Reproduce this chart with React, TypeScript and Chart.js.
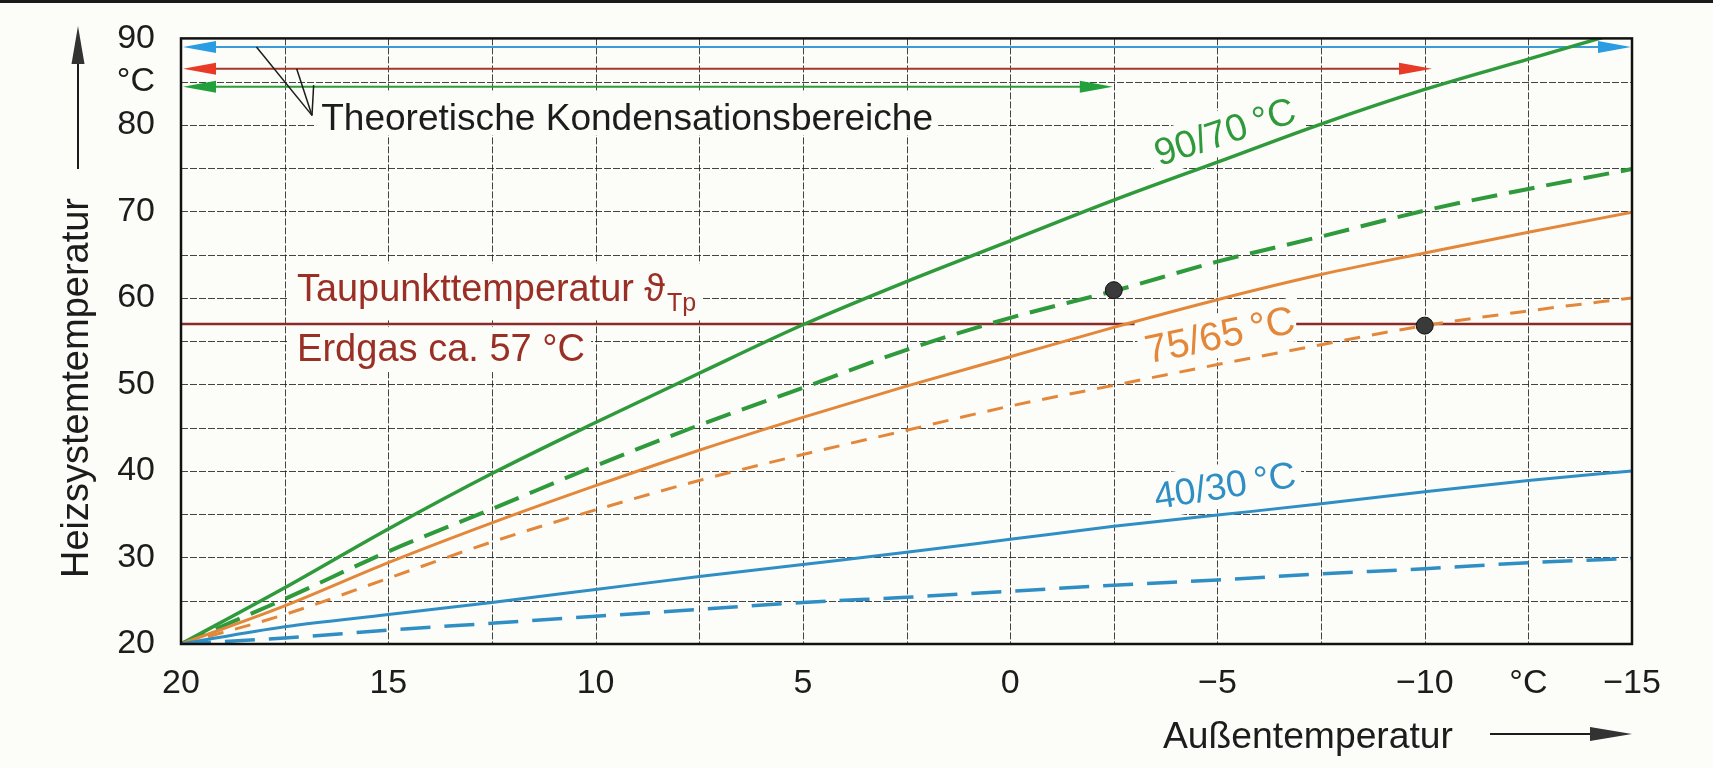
import React, { useEffect, useRef } from 'react';
import { Chart, registerables } from 'chart.js';

Chart.register(...registerables);

// ---------------- DATA ----------------
const outdoorTemps = [20, 17.5, 15, 12.5, 10, 7.5, 5, 2.5, 0, -2.5, -5, -7.5, -10, -12.5, -15];
const supply90 = [20, 26.5, 33.3, 39.7, 45.6, 51.3, 56.9, 61.9, 66.6, 71.3, 75.7, 80.1, 84.1, 87.6, 91.1];
const return70 = [20, 25.2, 30.7, 35.6, 40.6, 45.3, 49.6, 54.0, 57.7, 60.8, 64.2, 67.1, 70.1, 72.6, 74.9];
const supply75 = [20, 24.4, 29.4, 34.0, 38.3, 42.4, 46.2, 49.8, 53.2, 56.6, 59.8, 62.7, 65.2, 67.6, 69.9];
const return65 = [20, 23.4, 27.6, 31.8, 35.5, 38.9, 41.9, 44.7, 47.5, 49.9, 52.3, 54.6, 56.8, 58.5, 60.0];
const supply40 = [20, 22.0, 23.4, 24.8, 26.3, 27.8, 29.2, 30.6, 32.1, 33.6, 34.9, 36.2, 37.6, 38.9, 40.0];
const return30 = [20, 20.7, 21.6, 22.4, 23.2, 24.0, 24.8, 25.4, 26.1, 26.8, 27.4, 28.1, 28.7, 29.4, 29.9];

const dewPointTemp = 57;
const dewPointSegmentStarts = [20, -6.9];
const dewPointSegmentEnds = [-3, -15];

const markerX = [-2.5, -10];
const markerY = [60.9, 56.8];

// theoretical condensation ranges (arrows): blue 40/30, red 75/65, green 90/70
const rangeArrowY = [89, 86.5, 84.4];
const rangeArrowStart = [20, 20, 20];
const rangeArrowEnd = [-15, -10.2, -2.5];

// leader lines of "Theoretische Kondensationsbereiche"
const leaderApex = { x: 16.84, y: 81.1 };
const leaderEndX = [18.18, 17.21, 16.8];
const leaderEndY = [89, 86.5, 84.6];

const xTickValues = [20, 15, 10, 5, 0, -5, -10, -12.5, -15];
const xTickTexts = ['20', '15', '10', '5', '0', '\u22125', '\u221210', '°C', '\u221215'];
const yTickValues = [20, 30, 40, 50, 60, 70, 80, 85, 90];
const yTickTexts = ['20', '30', '40', '50', '60', '70', '80', '°C', '90'];

// ---------------- STYLE ----------------
const FONT = '"Liberation Sans", Arimo, "DejaVu Sans", sans-serif';
const GREEN = '#2f9a3b';
const ORANGE = '#e3873a';
const BLUE = '#2f8fc4';
const DARKRED = '#9a2f26';
const BG = '#fcfcf8';
const INK = '#1c1c1c';

const pts = (ys: number[]) => outdoorTemps.map((x, i) => ({ x, y: ys[i] }));

const dewPointData: { x: number; y: number | null }[] = [];
dewPointSegmentStarts.forEach((s, i) => {
  if (i > 0) dewPointData.push({ x: (dewPointSegmentEnds[i - 1] + s) / 2, y: null });
  dewPointData.push({ x: s, y: dewPointTemp });
  dewPointData.push({ x: dewPointSegmentEnds[i], y: dewPointTemp });
});

type Lbl = {
  text: string; x: number; y: number; rot: number; color: string; width: number;
  align: 'left' | 'center'; padL: number; padR: number; padT: number; padB: number; sub?: string;
};

const labels: Lbl[] = [
  { text: 'Theoretische Kondensationsbereiche', x: 16.62, y: 79.4, rot: 0, color: INK, width: 612, align: 'left', padL: 5, padR: 5, padT: 38, padB: 5 },
  { text: 'Taupunkttemperatur \u03D1', x: 17.2, y: 59.6, rot: 0, color: DARKRED, width: 368, align: 'left', padL: 10, padR: 6, padT: 38, padB: 19, sub: 'Tp' },
  { text: 'Erdgas ca. 57 °C', x: 17.2, y: 52.7, rot: 0, color: DARKRED, width: 288, align: 'left', padL: 10, padR: 6, padT: 34, padB: 11 },
  { text: '90/70\u2009°C', x: -5.18, y: 79.2, rot: -18, color: GREEN, width: 146, align: 'center', padL: 6, padR: 6, padT: 22, padB: 22 },
  { text: '75/65\u2009°C', x: -5.06, y: 55.7, rot: -12, color: ORANGE, width: 152, align: 'center', padL: 6, padR: 6, padT: 22, padB: 22 },
  { text: '40/30\u2009°C', x: -5.18, y: 38.3, rot: -9, color: BLUE, width: 143, align: 'center', padL: 6, padR: 6, padT: 22, padB: 22 },
];

function fitFont(ctx: CanvasRenderingContext2D, text: string, width: number) {
  ctx.font = `100px ${FONT}`;
  const m = ctx.measureText(text).width;
  const size = (100 * width) / m;
  return `${size.toFixed(2)}px ${FONT}`;
}

function arrowHead(ctx: CanvasRenderingContext2D, tx: number, ty: number, dx: number, dy: number, len: number, half: number, color: string) {
  const nx = -dy, ny = dx;
  ctx.beginPath();
  ctx.moveTo(tx, ty);
  ctx.lineTo(tx - dx * len + nx * half, ty - dy * len + ny * half);
  ctx.lineTo(tx - dx * len - nx * half, ty - dy * len - ny * half);
  ctx.closePath();
  ctx.fillStyle = color;
  ctx.fill();
}

const decor = {
  id: 'decor',
  beforeDraw(chart: any) {
    const { ctx, width, height } = chart;
    ctx.save();
    ctx.fillStyle = BG;
    ctx.fillRect(0, 0, width, height);
    ctx.fillStyle = '#1a1a1a';
    ctx.fillRect(0, 0, width, 3);
    ctx.restore();
  },
  beforeDatasetsDraw(chart: any) {
    const { ctx, chartArea: a } = chart;
    const xs = chart.scales.x, ys = chart.scales.y;
    ctx.save();
    // grid
    ctx.strokeStyle = 'rgba(35,35,35,0.85)';
    ctx.lineWidth = 1;
    ctx.setLineDash([7, 2]);
    xs.ticks.forEach((t: any) => {
      const px = Math.round(xs.getPixelForValue(t.value)) + 0.5;
      ctx.beginPath(); ctx.moveTo(px, a.top); ctx.lineTo(px, a.bottom); ctx.stroke();
    });
    ys.ticks.forEach((t: any) => {
      const py = Math.round(ys.getPixelForValue(t.value)) + 0.5;
      ctx.beginPath(); ctx.moveTo(a.left, py); ctx.lineTo(a.right, py); ctx.stroke();
    });
    ctx.setLineDash([]);
    // label backgrounds
    labels.forEach((l) => {
      let w = l.width;
      if (l.sub) { ctx.font = `25px ${FONT}`; w += ctx.measureText(l.sub).width + 2; }
      const px = xs.getPixelForValue(l.x), py = ys.getPixelForValue(l.y);
      ctx.save();
      ctx.translate(px, py);
      ctx.rotate((l.rot * Math.PI) / 180);
      ctx.fillStyle = BG;
      const x0 = l.align === 'left' ? 0 : -w / 2;
      ctx.fillRect(x0 - l.padL, -l.padT, w + l.padL + l.padR, l.padT + l.padB);
      ctx.restore();
    });
    // condensation range arrows
    const lineCols = ['#3b9bd8', '#a23a2c', '#2f9a3b'];
    const headCols = ['#2a9de2', '#e83a26', '#22a03c'];
    rangeArrowY.forEach((yv, i) => {
      const py = ys.getPixelForValue(yv);
      const x1 = xs.getPixelForValue(rangeArrowStart[i]) + 2;
      const x2 = xs.getPixelForValue(rangeArrowEnd[i]) - 1;
      ctx.strokeStyle = lineCols[i];
      ctx.lineWidth = 2;
      ctx.beginPath(); ctx.moveTo(x1 + 10, py); ctx.lineTo(x2 - 10, py); ctx.stroke();
      arrowHead(ctx, x1, py, -1, 0, 33, 6, headCols[i]);
      arrowHead(ctx, x2, py, 1, 0, 33, 6, headCols[i]);
    });
    // leader lines
    ctx.strokeStyle = INK;
    ctx.lineWidth = 1.5;
    const ax = xs.getPixelForValue(leaderApex.x), ay = ys.getPixelForValue(leaderApex.y);
    leaderEndX.forEach((lx, i) => {
      ctx.beginPath();
      ctx.moveTo(ax, ay);
      ctx.lineTo(xs.getPixelForValue(lx), ys.getPixelForValue(leaderEndY[i]));
      ctx.stroke();
    });
    ctx.restore();
  },
  afterDatasetsDraw(chart: any) {
    const { ctx, chartArea: a } = chart;
    const xs = chart.scales.x, ys = chart.scales.y;
    ctx.save();
    // frame
    ctx.strokeStyle = '#111';
    ctx.lineWidth = 2.5;
    ctx.strokeRect(a.left, a.top, a.right - a.left, a.bottom - a.top);
    // labels
    labels.forEach((l) => {
      const px = xs.getPixelForValue(l.x), py = ys.getPixelForValue(l.y);
      ctx.save();
      ctx.translate(px, py);
      ctx.rotate((l.rot * Math.PI) / 180);
      ctx.fillStyle = l.color;
      ctx.font = fitFont(ctx, l.text, l.width);
      if (l.align === 'left') {
        ctx.textAlign = 'left';
        ctx.textBaseline = 'alphabetic';
        ctx.fillText(l.text, 0, 0);
        if (l.sub) {
          ctx.font = `25px ${FONT}`;
          ctx.fillText(l.sub, l.width + 2, 10);
        }
      } else {
        ctx.textAlign = 'center';
        ctx.textBaseline = 'middle';
        ctx.fillText(l.text, 0, 2);
      }
      ctx.restore();
    });
    ctx.restore();
  },
  afterDraw(chart: any) {
    const { ctx } = chart;
    ctx.save();
    ctx.fillStyle = INK;
    ctx.strokeStyle = INK;
    // y-axis title with arrow
    ctx.save();
    ctx.translate(78, 388);
    ctx.rotate(-Math.PI / 2);
    ctx.font = fitFont(ctx, 'Heizsystemtemperatur', 380);
    ctx.textAlign = 'center';
    ctx.textBaseline = 'middle';
    ctx.fillText('Heizsystemtemperatur', 0, 0);
    ctx.restore();
    ctx.lineWidth = 2;
    ctx.beginPath(); ctx.moveTo(78, 169); ctx.lineTo(78, 60); ctx.stroke();
    arrowHead(ctx, 78, 26, 0, -1, 38, 6.5, '#333');
    // x-axis title with arrow
    ctx.font = fitFont(ctx, 'Außentemperatur', 290);
    ctx.textAlign = 'left';
    ctx.textBaseline = 'alphabetic';
    ctx.fillStyle = INK;
    ctx.fillText('Außentemperatur', 1163, 748);
    ctx.beginPath(); ctx.moveTo(1490, 734); ctx.lineTo(1595, 734); ctx.stroke();
    arrowHead(ctx, 1632, 734, 1, 0, 42, 7, '#333');
    ctx.restore();
  },
};

export default function App() {
  const ref = useRef<HTMLCanvasElement>(null);
  useEffect(() => {
    document.body.style.margin = '0';
    const canvas = ref.current!;
    const chart = new Chart(canvas, {
      type: 'line',
      data: {
        datasets: [
          {
            label: 'Auslegungspunkte',
            data: markerX.map((x, i) => ({ x, y: markerY[i] })),
            showLine: false,
            pointRadius: 8.5,
            pointBackgroundColor: '#3a3a3a',
            pointBorderColor: '#111',
            pointBorderWidth: 1,
            borderColor: '#111',
          },
          { label: '40/30 VL', data: pts(supply40), borderColor: BLUE, borderWidth: 3, pointRadius: 0, cubicInterpolationMode: 'monotone' },
          { label: '40/30 RL', data: pts(return30), borderColor: BLUE, borderWidth: 3.5, borderDash: [30, 14], pointRadius: 0, cubicInterpolationMode: 'monotone' },
          { label: '75/65 VL', data: pts(supply75), borderColor: ORANGE, borderWidth: 3, pointRadius: 0, cubicInterpolationMode: 'monotone' },
          { label: '75/65 RL', data: pts(return65), borderColor: ORANGE, borderWidth: 3, borderDash: [16, 12], pointRadius: 0, cubicInterpolationMode: 'monotone' },
          { label: '90/70 VL', data: pts(supply90), borderColor: GREEN, borderWidth: 3.5, pointRadius: 0, cubicInterpolationMode: 'monotone' },
          { label: '90/70 RL', data: pts(return70), borderColor: GREEN, borderWidth: 4, borderDash: [26, 12], pointRadius: 0, cubicInterpolationMode: 'monotone' },
          { label: 'Taupunkt', data: dewPointData as any, borderColor: '#8a2b2b', borderWidth: 2.5, pointRadius: 0, spanGaps: false },
        ],
      },
      options: {
        animation: false,
        responsive: false,
        devicePixelRatio: 1,
        layout: { padding: { left: 0, top: 24, right: 81, bottom: 0 } },
        plugins: { legend: { display: false }, tooltip: { enabled: false } },
        scales: {
          x: {
            type: 'linear',
            reverse: true,
            min: -15,
            max: 20,
            grid: { display: false },
            border: { display: false },
            afterFit: (s: any) => { s.height = 124; },
            ticks: {
              stepSize: 2.5,
              autoSkip: false,
              maxRotation: 0,
              padding: 11,
              color: INK,
              font: { family: FONT, size: 34 },
              callback: (v: any) => {
                const i = xTickValues.findIndex((t) => Math.abs(t - Number(v)) < 1e-6);
                return i >= 0 ? xTickTexts[i] : '';
              },
            },
          },
          y: {
            type: 'linear',
            min: 20,
            max: 90,
            grid: { display: false },
            border: { display: false },
            afterFit: (s: any) => { s.width = 181; },
            ticks: {
              stepSize: 5,
              autoSkip: false,
              padding: 18,
              color: INK,
              font: { family: FONT, size: 34 },
              callback: (v: any) => {
                const i = yTickValues.findIndex((t) => Math.abs(t - Number(v)) < 1e-6);
                return i >= 0 ? yTickTexts[i] : '';
              },
            },
          },
        },
      },
      plugins: [decor],
    } as any);
    return () => chart.destroy();
  }, []);
  return (
    <div style={{ position: 'fixed', left: 0, top: 0, width: 1713, height: 768, background: BG }}>
      <canvas ref={ref} width={1713} height={768} style={{ display: 'block', width: 1713, height: 768 }} />
    </div>
  );
}
